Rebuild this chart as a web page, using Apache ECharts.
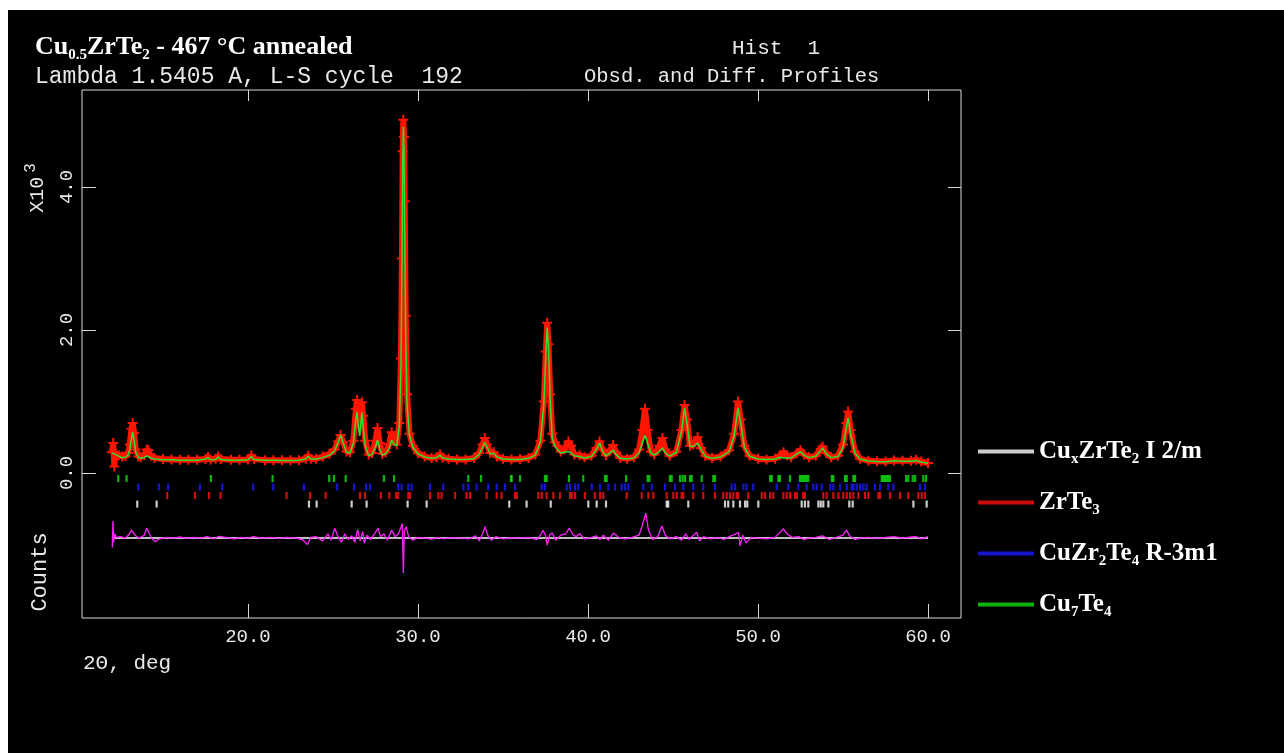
<!DOCTYPE html>
<html>
<head>
<meta charset="utf-8">
<script src="https://cdn.jsdelivr.net/npm/echarts@6/dist/echarts.min.js"></script>
<style>
  html, body { margin: 0; padding: 0; background: #ffffff; }
  #chart { position: absolute; left: 8px; top: 10px; width: 1276px; height: 743px; }
</style>
</head>
<body>
<div id="chart"></div>
<script>
// ---------------- DATA ----------------
const xTicks = [20, 30, 40, 50, 60];
const yTicks = [0, 2000, 4000];

const twoTheta = [12.00,12.08,12.14,12.22,12.4,12.6,12.8,12.95,13.05,13.15,13.22,13.30,13.40,13.55,13.7,13.9,14.05,14.15,14.3,14.5,15.0,15.5,16.0,16.5,17.0,17.5,17.65,17.8,18.1,18.25,18.4,19.0,19.5,20.0,20.2,20.35,21.0,21.5,22.0,22.5,23.0,23.4,23.55,23.7,24.0,24.4,24.8,25.1,25.3,25.45,25.6,25.8,26.0,26.2,26.35,26.42,26.5,26.58,26.7,26.78,26.9,27.1,27.3,27.5,27.62,27.75,27.9,28.1,28.3,28.45,28.6,28.75,28.9,29.0,29.06,29.10,29.14,29.18,29.22,29.28,29.36,29.5,29.7,30.0,30.4,30.8,31.1,31.3,31.45,31.8,32.3,32.8,33.3,33.6,33.8,33.93,34.05,34.25,34.45,34.65,35.0,35.5,36.0,36.5,36.9,37.2,37.4,37.52,37.6,37.68,37.78,37.9,38.05,38.2,38.4,38.6,38.85,39.0,39.2,39.5,39.8,40.2,40.5,40.68,40.85,41.05,41.3,41.48,41.65,41.9,42.3,42.7,43.0,43.2,43.35,43.5,43.7,43.9,44.2,44.38,44.55,44.8,45.2,45.5,45.68,45.82,46.0,46.2,46.45,46.65,46.9,47.3,47.8,48.3,48.6,48.82,48.98,49.2,49.5,50.0,50.5,51.0,51.3,51.5,51.7,51.95,52.3,52.5,52.7,53.0,53.4,53.7,53.8,54.0,54.3,54.7,55.0,55.2,55.3,55.45,55.7,56.0,56.5,57.0,57.5,58.0,58.5,59.0,59.3,59.6,60.0];
const observed = [290,420,90,270,250,230,235,280,400,620,700,560,330,230,220,250,330,320,240,210,195,190,185,185,185,195,225,190,200,230,195,185,185,190,245,195,180,180,178,178,180,200,240,200,200,230,270,330,440,530,430,300,290,450,900,1020,800,650,990,800,450,260,280,450,630,420,270,290,400,570,480,400,700,1600,3000,4500,4940,4700,3800,2200,1100,550,380,280,230,210,220,260,215,200,190,190,210,280,400,490,400,280,290,230,200,190,195,210,260,450,1000,1700,2100,1800,1100,550,430,380,300,330,440,380,260,250,220,240,350,440,330,250,320,390,290,210,200,220,330,600,900,600,300,260,380,490,330,240,300,600,950,750,380,400,500,350,240,210,230,320,550,1000,750,380,240,200,190,200,250,290,250,220,280,320,260,220,240,340,370,280,220,240,400,700,860,600,300,200,170,165,160,175,170,170,185,160,140];
const calculated = [280,275,268,255,235,215,220,250,330,480,570,470,290,220,205,215,240,245,210,195,185,185,180,180,180,195,215,185,190,225,190,180,180,185,230,190,178,178,176,176,178,195,235,195,195,215,250,310,430,530,420,290,280,420,760,850,620,520,850,620,380,240,260,360,460,340,250,270,340,460,400,380,650,1500,2900,4300,4840,4500,3300,1900,950,520,360,270,225,205,215,250,210,195,188,188,200,260,360,430,370,270,275,225,195,188,190,205,250,430,950,1650,2030,1750,1000,480,380,330,280,290,300,280,240,230,210,230,330,420,310,240,280,320,260,205,195,210,280,420,530,420,280,250,300,350,280,235,290,580,910,700,370,370,420,330,235,205,225,300,520,910,700,360,235,195,188,195,220,210,210,210,270,300,250,215,235,320,350,270,215,230,360,640,770,550,280,195,168,162,158,170,165,165,175,155,135];

const diffTheta = [12.02,12.06,12.10,12.16,12.25,12.5,12.8,13.0,13.15,13.3,13.45,13.6,13.9,14.05,14.2,14.4,14.55,14.8,15.2,15.6,16.0,16.4,16.8,17.2,17.6,18.0,18.3,18.8,19.2,19.6,20.0,20.3,20.8,21.3,21.8,22.3,22.8,23.2,23.5,23.7,24.0,24.4,24.7,24.9,25.1,25.3,25.5,25.7,25.9,26.1,26.3,26.45,26.6,26.75,26.85,27.0,27.2,27.45,27.65,27.8,28.0,28.2,28.45,28.65,28.85,29.0,29.08,29.14,29.2,29.3,29.45,29.7,30.0,30.4,30.8,31.2,31.5,32.0,32.5,33.0,33.4,33.6,33.8,33.95,34.1,34.3,34.6,35.0,35.5,36.0,36.5,37.0,37.2,37.35,37.5,37.6,37.75,37.9,38.1,38.4,38.7,38.9,39.1,39.3,39.5,39.8,40.2,40.5,40.7,40.9,41.2,41.5,41.8,42.2,42.6,43.0,43.2,43.4,43.55,43.8,44.1,44.35,44.55,44.8,45.2,45.5,45.75,45.95,46.2,46.4,46.55,46.8,47.2,47.6,48.0,48.4,48.7,48.85,48.95,49.1,49.3,49.6,50.0,50.5,51.0,51.3,51.5,51.7,52.0,52.4,52.7,53.0,53.4,53.8,54.2,54.6,55.0,55.2,55.4,55.7,56.0,56.5,57.0,57.5,58.0,58.5,59.0,59.3,59.6,60.0];
const difference = [-130,240,-60,60,10,20,0,50,110,60,20,0,40,140,60,-20,-50,-10,10,0,15,-5,10,0,20,-10,25,5,-10,10,-5,20,0,10,-5,10,0,-20,-90,10,20,-40,60,-30,140,20,-60,60,-20,30,-60,120,-40,90,-70,40,-20,60,140,20,60,-30,110,20,60,150,200,-490,100,160,20,-30,10,0,-15,10,-10,5,0,-10,30,-40,60,160,40,-30,20,-10,5,0,10,-20,40,110,40,-100,50,70,-30,40,60,140,50,20,60,-10,10,30,-20,40,-30,70,10,-10,10,40,180,350,120,-20,20,170,40,-10,20,-30,60,-20,40,80,-40,20,-10,10,-20,30,60,80,-110,40,-70,10,0,-10,10,80,130,60,10,20,-20,0,10,30,-20,10,40,110,30,-20,0,10,-5,10,20,0,15,20,-10,20];
const diffOffset = -910;

// reflection positions (2-theta) for each phase
const phaseNames = ['CuxZrTe2 I 2/m', 'ZrTe3', 'CuZr2Te4 R-3m1', 'Cu7Te4'];
const ticksCuxZrTe2 = [13.49,14.63,23.59,24.04,26.1,26.98,29.39,30.51,35.37,36.39,37.81,40.02,40.51,41.06,44.63,44.72,45.9,48.06,48.25,48.55,48.94,49.24,49.37,50.02,52.57,52.76,52.96,53.55,53.69,53.84,54.14,55.37,55.57,59.14,59.92];
const ticksZrTe3 = [15.25,16.88,17.71,18.39,22.27,23.65,24.57,26.59,26.88,27.82,28.31,28.71,28.84,29.43,29.53,30.71,31.2,31.39,32.18,32.86,33.06,34.04,34.63,34.92,35.71,35.81,37.08,37.28,37.57,37.96,38.35,38.94,39.04,39.24,39.82,40.41,40.71,40.9,42.28,43.16,43.55,43.84,44.63,45.02,45.22,45.51,45.61,46.19,46.78,47.47,47.96,48.16,48.35,48.55,48.75,48.84,49.43,50.22,50.41,50.71,50.9,51.49,51.69,51.88,52.18,52.28,52.66,52.76,53.84,54.04,54.43,54.73,55.02,55.22,55.41,55.61,55.9,56.29,56.49,57.08,57.18,57.76,58.35,58.84,59.43,59.63,59.82];
const ticksCuZr2Te4 = [13.55,14.76,15.31,17.18,18.49,20.31,21.49,23.29,25.25,26.24,26.94,27.18,28.84,29.04,29.43,29.63,30.71,31.49,32.67,32.96,33.45,34.14,34.63,35.12,35.71,37.28,37.47,38.75,38.94,39.24,39.43,40.22,40.71,41.2,41.59,41.98,42.18,42.37,43.25,43.75,44.53,45.12,45.61,46.19,46.78,47.47,48.45,48.65,49.14,49.33,49.72,51.1,51.78,52.37,52.86,53.25,53.45,53.75,54.24,54.43,54.82,55.22,55.51,55.61,55.81,56.0,56.2,56.39,56.88,57.18,57.66,57.96,59.53,59.82];
const ticksCu7Te4 = [12.37,12.86,17.82,21.45,24.78,25.06,25.75,28.0,28.59,32.96,33.71,35.47,35.51,36.0,37.47,37.57,38.88,39.72,41.0,41.1,42.24,43.51,43.61,44.82,44.92,45.41,45.57,45.71,46.0,46.1,46.69,47.37,47.47,50.71,50.81,51.2,51.29,51.88,52.47,52.57,52.66,52.76,52.86,52.96,54.34,54.43,55.12,55.22,55.61,55.71,57.28,57.37,57.47,57.57,57.66,57.76,58.71,58.84,59.1,59.24,59.72,59.88];
const tickLevels = [-434, -315, -196, -77];   // rows: CuxZrTe2, ZrTe3, CuZr2Te4, Cu7Te4
const phaseColors = ['#ffffff', '#ff1010', '#1a1aff', '#10e010'];

// ---------------- CHART ----------------
const chart = echarts.init(document.getElementById('chart'), null, { renderer: 'canvas' });

const xMin = 10.24, xMax = 61.94, yMin = -2028, yMax = 5357;
const monoFont = 'Liberation Mono';
const serif = 'Liberation Serif';
const crossPath = 'path://M4,0H6V4H10V6H6V10H4V6H0V4H4Z';
const frameColor = '#d8d8d8';

const phaseTicks = [ticksCuxZrTe2, ticksZrTe3, ticksCuZr2Te4, ticksCu7Te4];

const richLegend = {
  m: { fontFamily: serif, fontWeight: 'bold', fontSize: 25, color: '#ffffff', lineHeight: 30 },
  s: { fontFamily: serif, fontWeight: 'bold', fontSize: 15, color: '#ffffff', lineHeight: 14, padding: [16, 0, 0, 0] }
};
const legendLabels = {
  'CuxZrTe2 I 2/m': '{m|Cu}{s|x}{m|ZrTe}{s|2}{m| I 2/m}',
  'ZrTe3': '{m|ZrTe}{s|3}',
  'CuZr2Te4 R-3m1': '{m|CuZr}{s|2}{m|Te}{s|4}{m| R-3m1}',
  'Cu7Te4': '{m|Cu}{s|7}{m|Te}{s|4}'
};

const series = [];
series.push({
  name: 'Observed', type: 'line', xAxisIndex: 0, yAxisIndex: 0,
  data: twoTheta.map((t, i) => [t, observed[i]]),
  lineStyle: { color: '#ff1500', width: 6 },
  itemStyle: { color: '#ff1500' },
  symbol: crossPath, symbolSize: 10, showSymbol: true, showAllSymbol: true,
  z: 2, silent: true
});
series.push({
  name: 'Calculated', type: 'line',
  data: twoTheta.map((t, i) => [t, calculated[i]]),
  lineStyle: { color: '#30e030', width: 1.5 },
  symbol: 'none', z: 4, silent: true
});
series.push({
  name: 'DiffZero', type: 'line',
  data: [[twoTheta[0], diffOffset], [twoTheta[twoTheta.length - 1], diffOffset]],
  lineStyle: { color: '#ffffff', width: 1.5 },
  symbol: 'none', z: 3, silent: true
});
series.push({
  name: 'Difference', type: 'line',
  data: diffTheta.map((t, i) => [t, difference[i] + diffOffset]),
  lineStyle: { color: '#ff20ff', width: 1.3 },
  symbol: 'none', z: 4, silent: true
});
phaseNames.forEach((name, k) => {
  series.push({
    name: name, type: 'scatter',
    data: phaseTicks[k].map(t => [t, tickLevels[k]]),
    symbol: 'rect', symbolSize: [2.2, 7],
    itemStyle: { color: phaseColors[k] },
    z: 5, silent: true
  });
});

function tickAxis(pos, len, showLabel, labelOpts, dim) {
  const ax = {
    type: 'value', position: pos,
    min: dim === 'x' ? xMin : yMin, max: dim === 'x' ? xMax : yMax,
    axisLine: { show: false, onZero: false },
    axisTick: { show: true, inside: true, length: len, customValues: dim === 'x' ? xTicks : yTicks,
      lineStyle: { color: frameColor, width: 1 } },
    axisLabel: showLabel ? labelOpts : { show: false },
    splitLine: { show: false }
  };
  return ax;
}

const option = {
  backgroundColor: '#000000',
  animation: false,
  title: [
    {
      left: 27, top: 22, padding: 0,
      text: '{b|Cu}{s|0.5}{b|ZrTe}{s|2}{b| - 467 °C annealed}',
      textStyle: {
        rich: {
          b: { fontFamily: serif, fontWeight: 'bold', fontSize: 26, color: '#ffffff', lineHeight: 30 },
          s: { fontFamily: serif, fontWeight: 'bold', fontSize: 15, color: '#ffffff', lineHeight: 14, padding: [16, 0, 0, 0] }
        }
      }
    },
    {
      left: 27, top: 54, padding: 0,
      text: 'Lambda 1.5405 A, L-S cycle  192',
      textStyle: { fontFamily: monoFont, fontWeight: 'normal', fontSize: 23, color: '#e8e8e8', lineHeight: 26 }
    },
    {
      left: 724, top: 26, padding: 0,
      text: 'Hist  1',
      textStyle: { fontFamily: monoFont, fontWeight: 'normal', fontSize: 21, color: '#e8e8e8', lineHeight: 24 }
    },
    {
      left: 576, top: 55, padding: 0,
      text: 'Obsd. and Diff. Profiles',
      textStyle: { fontFamily: monoFont, fontWeight: 'normal', fontSize: 20.5, color: '#e8e8e8', lineHeight: 24 }
    }
  ],
  legend: {
    orient: 'vertical', left: 970, top: 426, itemGap: 20, padding: 0,
    itemWidth: 56, itemHeight: 4, icon: 'rect',
    selectedMode: false,
    data: phaseNames.map(n => ({ name: n, icon: 'rect' })),
    formatter: n => legendLabels[n],
    textStyle: { color: '#ffffff', rich: richLegend }
  },
  grid: {
    left: 74, top: 80, width: 879, height: 528,
    show: true, borderColor: frameColor, borderWidth: 1, backgroundColor: 'transparent',
    containLabel: false
  },
  xAxis: [
    tickAxis('bottom', 14, true, { show: true, customValues: xTicks, margin: 9, color: '#e8e8e8',
      fontFamily: monoFont, fontSize: 19, formatter: v => v.toFixed(1) }, 'x'),
    tickAxis('top', 11, false, null, 'x')
  ],
  yAxis: [
    tickAxis('left', 14, true, { show: true, customValues: yTicks, rotate: 90, margin: 6, color: '#e8e8e8',
      fontFamily: monoFont, fontSize: 19, formatter: v => (v / 1000).toFixed(1) }, 'y'),
    tickAxis('right', 13, false, null, 'y')
  ],
  graphic: [
    {
      type: 'text', x: 30, y: 178, rotation: Math.PI / 2,
      style: {
        text: '{a|X10}{p|3}', align: 'center', verticalAlign: 'middle',
        rich: {
          a: { fontFamily: monoFont, fontSize: 20, fill: '#e8e8e8', color: '#e8e8e8', lineHeight: 28 },
          p: { fontFamily: monoFont, fontSize: 16, fill: '#e8e8e8', color: '#e8e8e8', lineHeight: 14, padding: [0, 0, 14, 4] }
        }
      }
    },
    {
      type: 'text', x: 32, y: 562, rotation: Math.PI / 2,
      style: { text: 'Counts', align: 'center', verticalAlign: 'middle', fill: '#e8e8e8',
        font: '22px "Liberation Mono"' }
    },
    {
      type: 'text', x: 75, y: 653,
      style: { text: '2Θ, deg', align: 'left', verticalAlign: 'middle', fill: '#e8e8e8',
        font: '21px "Liberation Mono"' }
    }
  ],
  series: series
};
chart.setOption(option);
</script>
</body>
</html>
